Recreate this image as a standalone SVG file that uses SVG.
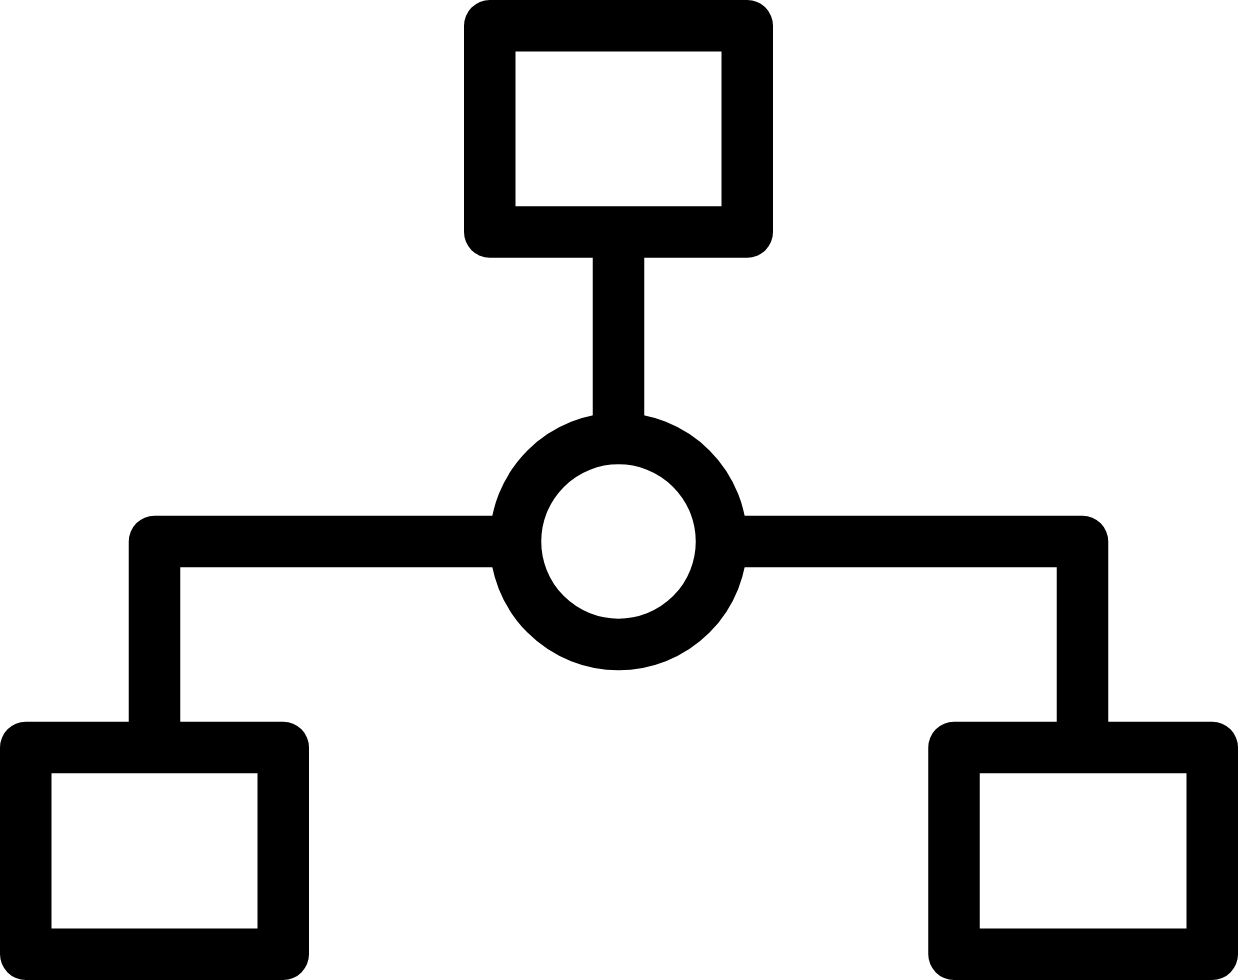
<svg xmlns="http://www.w3.org/2000/svg" width="1238" height="980" viewBox="0 0 1238 980">
<style>
.s{fill:none;stroke:#000;stroke-width:51.5;stroke-linejoin:round;stroke-linecap:butt}
</style>
<rect width="1238" height="980" fill="#fff"/>
<g id="connectors">
<path class="s" d="M618.5 232V440"/>
<path class="s" d="M517 541.5H154.5V747.5"/>
<path class="s" d="M720 541.5H1082.5V747.5"/>
</g>
<g id="top"><rect class="s" x="489.75" y="25.75" width="257.5" height="206.25"/></g>
<g id="hub"><circle class="s" cx="618.5" cy="541.5" r="103"/></g>
<g id="left"><rect class="s" x="25.75" y="747.5" width="257.5" height="206.75"/></g>
<g id="right"><rect class="s" x="954" y="747.5" width="258.25" height="206.75"/></g>
</svg>
